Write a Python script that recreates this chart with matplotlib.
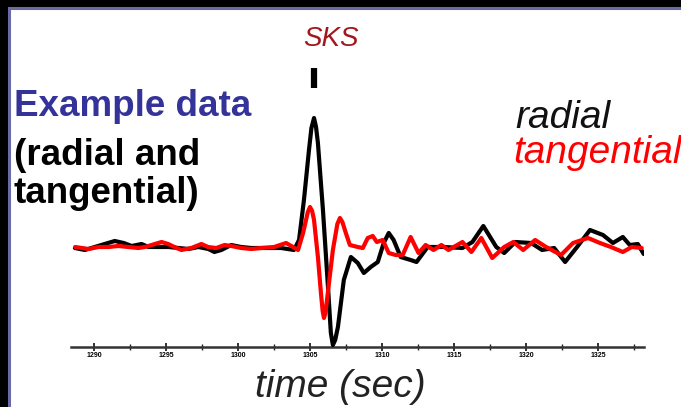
import matplotlib
matplotlib.use("Agg")
import matplotlib.pyplot as plt
from matplotlib.patches import Rectangle
from matplotlib.ticker import MultipleLocator

# radial trace (time in sec, amplitude in arbitrary counts)
radial_t = [1288.67, 1289.36, 1290.05, 1290.74, 1291.44, 1292.06, 1292.61, 1293.30,
            1293.79, 1294.48, 1295.17, 1295.87, 1296.56, 1297.25, 1297.94, 1298.36,
            1298.84, 1299.53, 1300.22, 1300.92, 1301.61, 1302.99, 1303.89, 1304.24,
            1304.58, 1304.93, 1305.10, 1305.28, 1305.42, 1305.55, 1305.90, 1306.25,
            1306.45, 1306.59, 1306.75, 1306.94,
            1307.35, 1307.84, 1308.32, 1308.74, 1309.22, 1309.71, 1310.12, 1310.47,
            1310.81, 1311.30, 1311.99, 1312.40, 1313.17, 1314.27, 1315.59, 1316.28,
            1317.04, 1317.94, 1318.49, 1319.26, 1320.36, 1321.12, 1321.96, 1322.72,
            1323.55, 1324.45, 1325.35, 1326.04, 1326.73, 1327.21, 1327.77, 1328.18]
radial_a = [0, -2, 1, 4, 7, 5, 2, 4,
            1, 1, 1, 0, -1, 1, -1, -4,
            -2, 3, 1, 0, 0, 0, -2, 8,
            48, 98, 120, 130, 121, 105, 38, -39,
            -85, -97, -92, -79,
            -32, -9, -15, -25, -19, -14, 5, 15,
            8, -9, -12, -14, 1, 1, 0, 6,
            22, 1, -5, 6, 5, -2, 0, -14,
            1, 18, 13, 5, 11, 3, 4, -6]

# tangential trace
tang_t = [1288.69, 1289.15, 1289.62, 1290.31, 1291.00, 1291.69, 1292.38, 1293.08,
          1293.53, 1294.00, 1294.69, 1295.15, 1295.73, 1296.07, 1296.76, 1297.46,
          1297.92, 1298.49, 1299.07, 1299.53, 1300.22, 1300.92, 1301.61, 1302.51,
          1303.34, 1303.82, 1304.17, 1304.52, 1304.85, 1305.00, 1305.15, 1305.28,
          1305.55, 1305.76, 1305.88, 1305.97, 1306.07, 1306.18, 1306.59, 1306.90,
          1307.08, 1307.25, 1307.49, 1307.77, 1308.32, 1308.67,
          1309.01, 1309.36, 1309.64, 1310.05, 1310.47, 1310.95, 1311.44, 1311.99,
          1312.54, 1313.03, 1313.58, 1314.13, 1314.62, 1315.59, 1316.21, 1316.90,
          1317.66, 1318.49, 1319.12, 1319.81, 1320.64, 1321.40, 1322.44, 1323.27,
          1324.31, 1325.14, 1325.90, 1326.73, 1327.35, 1328.04]
tang_a = [1, 0, -1, 1, 1, 2, 1, 0,
          1, 3, 6, 4, 0, -2, 0, 4,
          1, 0, 3, 2, 0, -1, 0, 1,
          5, 1, -2, 15, 36, 41, 37, 28,
          -9, -45, -63, -70, -65, -52, -2, 24,
          30, 26, 15, 3, 1, 0,
          10, 12, 6, 8, -5, -7, -7, 11,
          -5, 3, -2, 3, -2, 6, -4, 10,
          -10, 1, 6, -2, 8, 1, -7, 5,
          10, 5, 1, -4, 1, 0]

major_ticks = [1290, 1295, 1300, 1305, 1310, 1315, 1320, 1325]
sks_time = 1305.28

W, H = 681, 407
plt.rcParams['font.family'] = ['Liberation Sans', 'DejaVu Sans']

fig = plt.figure(figsize=(W / 100, H / 100), dpi=100)
fig.patch.set_facecolor('black')


def fx(px):
    return px / W


def fy(py):
    return 1 - py / H


# white slide panel with thin purple edge (behind the axes)
fig.patches.append(Rectangle((fx(8.5), -0.05), 1.1, fy(7.5) + 0.05,
                             transform=fig.transFigure, facecolor='white',
                             edgecolor='#6a6aa6', linewidth=2.2, zorder=-5))

# axes: x 71..644 px, y 10..360 px
ax = fig.add_axes([fx(71), fy(360), (644 - 71) / W, 350 / H])
ax.set_facecolor('none')
ax.set_zorder(2)
ax.set_xlim(1288.4, 1328.2)
ax.set_ylim(-112, 238)

ax.plot(radial_t, radial_a, color='black', lw=3.0, solid_joinstyle='round',
        solid_capstyle='round', zorder=3)
ax.plot(tang_t, tang_a, color='#ff0000', lw=3.0, solid_joinstyle='round',
        solid_capstyle='round', zorder=4)

# SKS arrival marker
ax.plot([sks_time, sks_time], [160, 180], color='black', lw=4.5,
        solid_capstyle='butt')

for side in ['top', 'right', 'left']:
    ax.spines[side].set_visible(False)
ax.spines['bottom'].set_position(('data', -99))
ax.spines['bottom'].set_color('#333333')
ax.spines['bottom'].set_linewidth(1.8)
ax.set_yticks([])
ax.set_xticks(major_ticks)
ax.xaxis.set_minor_locator(MultipleLocator(2.5))
ax.tick_params(axis='x', which='major', direction='inout', length=6, width=1.3,
               color='#222222', pad=0.5, labelsize=5)
ax.tick_params(axis='x', which='minor', direction='inout', length=4, width=1.0,
               color='#222222')
for lbl in ax.get_xticklabels():
    lbl.set_fontweight('bold')

# texts
fig.text(fx(331), fy(46), 'SKS', color='#a3161b', fontsize=20,
         style='italic', ha='center', va='baseline')
fig.text(fx(14), fy(116), 'Example data', color='#333399', fontsize=26.5,
         fontweight='bold', ha='left', va='baseline')
fig.text(fx(14), fy(165), '(radial and', color='black', fontsize=26.5,
         fontweight='bold', ha='left', va='baseline')
fig.text(fx(14), fy(203), 'tangential)', color='black', fontsize=26.5,
         fontweight='bold', ha='left', va='baseline')
fig.text(fx(515), fy(128), 'radial', color='#111111', fontsize=28,
         style='italic', ha='left', va='baseline')
fig.text(fx(513), fy(163), 'tangential', color='#ff0000', fontsize=28,
         style='italic', ha='left', va='baseline')
fig.text(fx(340), fy(397), 'time (sec)', color='#222222', fontsize=28,
         style='italic', ha='center', va='baseline')

fig.savefig('out.png', dpi=100, facecolor=fig.get_facecolor())
